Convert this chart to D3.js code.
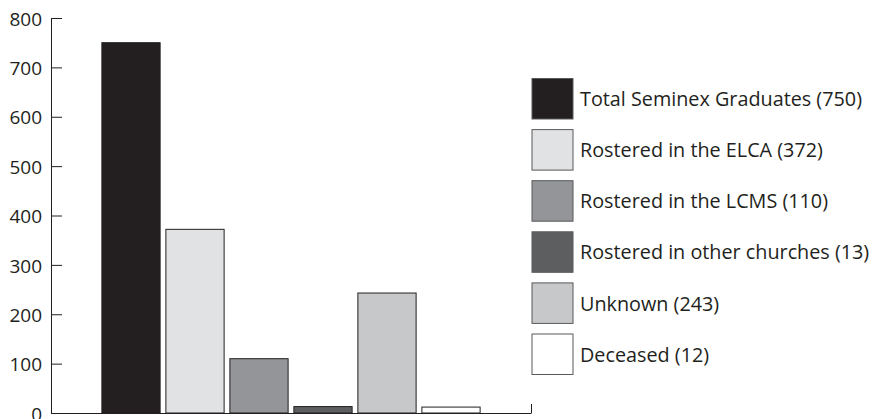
<!DOCTYPE html>
<html><head><meta charset="utf-8">
<script src="https://cdn.jsdelivr.net/npm/d3@7"></script>
<style>body{margin:0;background:#fff}svg{display:block}</style>
</head><body>
<svg id="c" width="875" height="419"></svg>
<script>
const categories = ["Total Seminex Graduates","Rostered in the ELCA","Rostered in the LCMS","Rostered in other churches","Unknown","Deceased"];
const values = [750, 372, 110, 13, 243, 12];
const colors = ["#231f20","#e1e2e4","#939598","#5d5e60","#c7c8ca","#ffffff"];
const yTicks = [0,100,200,300,400,500,600,700,800];

const svg = d3.select("#c");
const font = "'Open Sans', 'Noto Sans', sans-serif";
const ink = "#231f20";

const y = d3.scaleLinear().domain([0,800]).range([413,18]);
const x = d3.scaleBand().domain(categories).range([99,483]).paddingInner(0.09).paddingOuter(0.045);

// bars
svg.selectAll("rect.bar").data(values).join("rect")
  .attr("class","bar")
  .attr("x",(d,i)=>x(categories[i]))
  .attr("y",d=>y(d))
  .attr("width",x.bandwidth())
  .attr("height",d=>y(0)-y(d))
  .attr("fill",(d,i)=>colors[i])
  .attr("stroke",ink).attr("stroke-width",1);

// y axis
const yAxis = d3.axisLeft(y).tickValues(yTicks).tickSize(-11).tickPadding(20).tickSizeOuter(0);
const gy = svg.append("g").attr("transform","translate(51,0)").call(yAxis);
gy.select(".domain").attr("stroke",ink);
gy.selectAll(".tick line").attr("stroke",ink);
gy.selectAll(".tick text").attr("font-family",font).attr("font-size",19).attr("fill",ink).attr("x",-9).attr("dy","0.38em");

// x axis baseline
const xAxis = d3.axisBottom(d3.scaleLinear().domain([0,1]).range([51,531])).tickValues([1]).tickSize(-9).tickFormat("").tickSizeOuter(0);
const gx = svg.append("g").attr("transform","translate(0,413)").call(xAxis);
gx.select(".domain").attr("stroke",ink);
gx.selectAll(".tick line").attr("stroke",ink);

// legend
const lg = svg.append("g");
const items = lg.selectAll("g").data(categories).join("g")
  .attr("transform",(d,i)=>`translate(532,${78.5+i*51.1})`);
items.append("rect").attr("width",41).attr("height",40.5)
  .attr("fill",(d,i)=>colors[i]).attr("stroke","#58595b").attr("stroke-width",1);
items.append("text").attr("x",48).attr("y",20.5).attr("dy","0.36em")
  .attr("font-family",font).attr("font-size",19.8).attr("fill",ink)
  .text((d,i)=>`${d} (${values[i]})`);
</script>
</body></html>
